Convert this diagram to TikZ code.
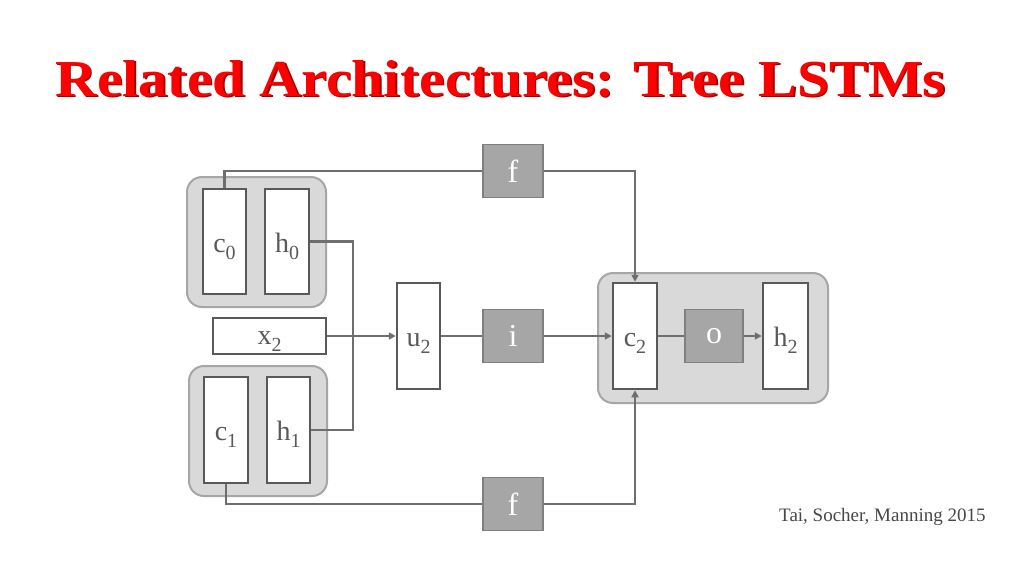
\documentclass[tikz,border=0pt]{standalone}
\usepackage{fontspec}
\setmainfont{Liberation Serif}
\usetikzlibrary{arrows.meta}
\definecolor{titlered}{HTML}{FF0000}
\definecolor{shadowred}{HTML}{A00000}
\definecolor{groupfill}{HTML}{D9D9D9}
\definecolor{groupdraw}{HTML}{A6A6A6}
\definecolor{boxdraw}{HTML}{595959}
\definecolor{gatefill}{HTML}{A6A6A6}
\definecolor{gatedraw}{HTML}{7F7F7F}
\definecolor{wire}{HTML}{6E6E6E}
\newcommand{\sub}[1]{\raisebox{-7pt}{\fontsize{20}{20}\selectfont #1}}
\tikzset{
    group/.style = {draw = groupdraw, fill = groupfill, line width = 2pt, rounded corners = 15pt},
    cell/.style = {draw = boxdraw, fill = white, line width = 2.5pt, inner sep = 0pt, text = boxdraw, text height = 21pt, text depth = 0pt, font = \fontsize{28}{30}\selectfont},
    gate/.style = {draw = gatedraw, fill = gatefill, line width = 1.5pt, inner sep = 0pt, text = white, minimum width = 60pt, minimum height = 53pt, font = \fontsize{32}{34}\selectfont},
    wire/.style = {draw = wire, line width = 2.5pt},
    arr/.style = {wire, -{Triangle[length = 7pt, width = 7pt]}}
}
\begin{document}
\begin{tikzpicture}[x = 1pt, y = -1pt]
        \useasboundingbox[fill = white] (0, 0) rectangle (1024, 576);
        % title
        \node[anchor = base west, inner sep = 0pt, text = shadowred] at (56.5, 97.5) {\resizebox{890pt}{36pt}{\bfseries Related Architectures: Tree LSTMs}};
        \node[anchor = base west, inner sep = 0pt, text = titlered] (title) at (55, 96) {\resizebox{890pt}{36pt}{\bfseries Related Architectures: Tree LSTMs}};
        % groups
        \draw[group] (187, 177) rectangle (326, 307);
        \draw[group] (189, 366) rectangle (327, 496);
        \draw[group] (598, 273) rectangle (828, 403);
        % cells
        \node[cell, minimum width = 43pt, minimum height = 105pt] (c0) at (224.5, 241.5) {c\sub{0}};
        \node[cell, minimum width = 44pt, minimum height = 105pt] (h0) at (287, 241.5) {h\sub{0}};
        \node[cell, minimum width = 44pt, minimum height = 106pt] (c1) at (226, 430) {c\sub{1}};
        \node[cell, minimum width = 43pt, minimum height = 106pt] (h1) at (288.5, 430) {h\sub{1}};
        \node[cell, minimum width = 113pt, minimum height = 36pt, text height = 16pt] (x2) at (269.5, 336) {x\sub{2}};
        \node[cell, minimum width = 43pt, minimum height = 106pt] (u2) at (418.5, 336) {u\sub{2}};
        \node[cell, minimum width = 44pt, minimum height = 106pt] (c2) at (635, 336) {c\sub{2}};
        \node[cell, minimum width = 45pt, minimum height = 106pt] (h2) at (785.5, 336) {h\sub{2}};
        % gates
        \node[gate] (ftop) at (513, 171) {f};
        \node[gate] (igate) at (513, 336) {i};
        \node[gate, minimum width = 58pt] (ogate) at (714, 336) {o};
        \node[gate] (fbot) at (513, 504) {f};
        % wires
        \coordinate (merge) at (353, 336);
        \draw[wire] (c0.north) |- (ftop.west);
        \draw[arr] (ftop.east) -| (c2.north);
        \draw[wire] (c1.south) |- (fbot.west);
        \draw[arr] (fbot.east) -| (c2.south);
        \draw[wire] (h0.east) -| (merge) |- (h1.east);
        \draw[arr] (x2.east) -- (u2.west);
        \draw[wire] (u2.east) -- (igate.west);
        \draw[arr] (igate.east) -- (c2.west);
        \draw[wire] (c2.east) -- (ogate.west);
        \draw[arr] (ogate.east) -- (h2.west);
        % citation
        \node[anchor = base west, inner sep = 0pt, text = boxdraw!80!black, font = \fontsize{19}{22}\selectfont] (cite) at (779, 521) {Tai, Socher, Manning 2015};
    \end{tikzpicture}
\end{document}
